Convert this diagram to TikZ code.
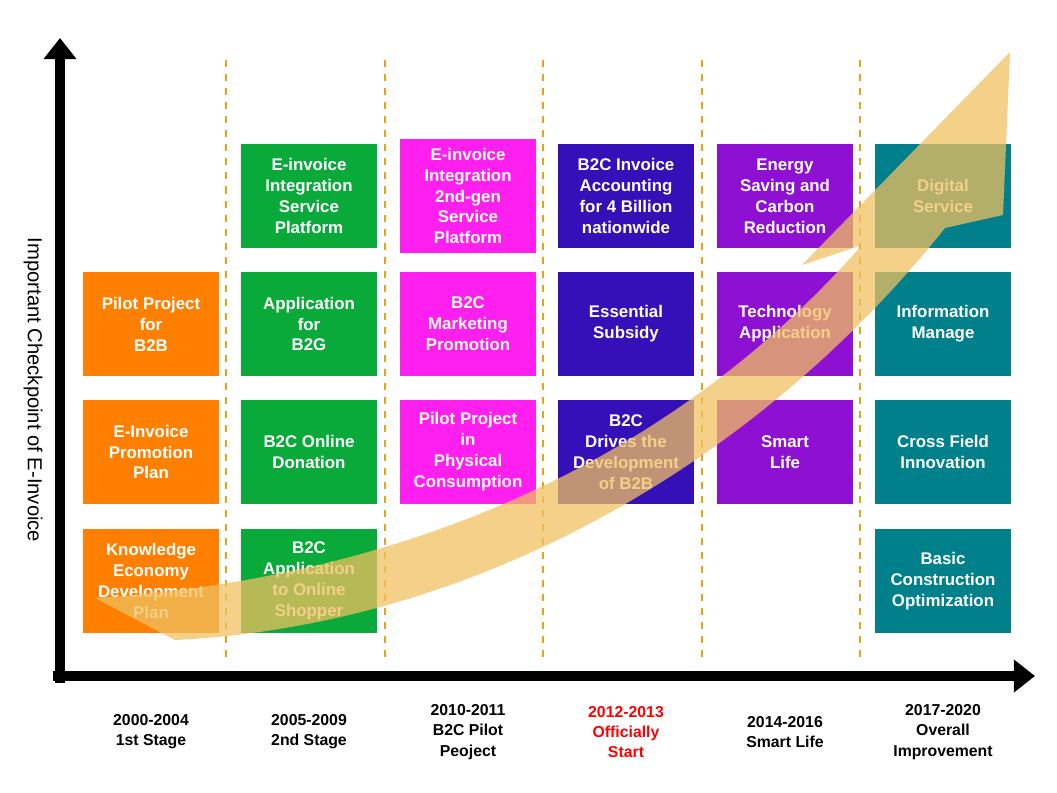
\documentclass[tikz,border=0pt]{standalone}
\usepackage{fontspec}
\setmainfont{Liberation Sans}
\usetikzlibrary{arrows.meta}
\definecolor{corange}{HTML}{FF8000}
\definecolor{cgreen}{HTML}{0AAA3A}
\definecolor{cmagenta}{HTML}{FF1FEE}
\definecolor{cblue}{HTML}{3510B8}
\definecolor{cpurple}{HTML}{8E10D2}
\definecolor{cteal}{HTML}{00808A}
\definecolor{cdash}{HTML}{E8A317}
\definecolor{cband}{HTML}{F0C060}
\tikzset{
  box/.style={minimum width=2.72cm, minimum height=2.1cm, align=center, text=white,
    font=\fontsize{9.6}{11.9}\selectfont\bfseries, inner sep=1pt},
  stage/.style={align=center, font=\fontsize{9}{11.5}\selectfont\bfseries},
}
\begin{document}
\begin{tikzpicture}[x=0.02cm, y=-0.02cm, >=latex]
\useasboundingbox (0,0) rectangle (1057,793);

% dashed separators
\foreach \x in {226,385,543,702,860}
  \draw[cdash, line width=1.6pt, dash pattern=on 4pt off 4pt] (\x,60) -- (\x,662);

% axes
\coordinate (o) at (60,683);
\coordinate (ytop) at (60,38);
\coordinate (xl) at (53,676);
\coordinate (xr) at (1035,676);
\draw[line width=6pt, -{Triangle[length=12pt,width=18pt]}] (o) -- (ytop);
\draw[line width=6pt, -{Triangle[length=12pt,width=18pt]}] (xl) -- (xr);
\node[rotate=-90, font=\fontsize{11.5}{13}\selectfont] (ylab) at (33,390) {Important Checkpoint of E-Invoice};

% column 1
\node[box, fill=corange] (a2) at (151,324) {Pilot Project\\for\\B2B};
\node[box, fill=corange] (a3) at (151,452) {E-Invoice\\Promotion\\Plan};
\node[box, fill=corange] (a4) at (151,581) {Knowledge\\Economy\\Development\\Plan};
% column 2
\node[box, fill=cgreen] (b1) at (309,196) {E-invoice\\Integration\\Service\\Platform};
\node[box, fill=cgreen] (b2) at (309,324) {Application\\for\\B2G};
\node[box, fill=cgreen] (b3) at (309,452) {B2C Online\\Donation};
\node[box, fill=cgreen] (b4) at (309,581) {B2C\\Application\\to Online\\Shopper};
% column 3
\node[box, fill=cmagenta, minimum height=2.28cm] (c1) at (468,196) {E-invoice\\Integration\\2nd-gen\\Service\\Platform};
\node[box, fill=cmagenta] (c2) at (468,324) {B2C\\Marketing\\Promotion};
\node[box, fill=cmagenta] (c3) at (468,452) {Pilot Project\\in\\Physical\\Consumption};
% column 4
\node[box, fill=cblue] (d1) at (626,196) {B2C Invoice\\Accounting\\for 4 Billion\\nationwide};
\node[box, fill=cblue] (d2) at (626,324) {Essential\\Subsidy};
\node[box, fill=cblue] (d3) at (626,452) {B2C\\Drives the\\Development\\of B2B};
% column 5
\node[box, fill=cpurple] (e1) at (785,196) {Energy\\Saving and\\Carbon\\Reduction};
\node[box, fill=cpurple] (e2) at (785,324) {Technology\\Application};
\node[box, fill=cpurple] (e3) at (785,452) {Smart\\Life};
% column 6
\node[box, fill=cteal] (f1) at (943,196) {Digital\\Service};
\node[box, fill=cteal] (f2) at (943,324) {Information\\Manage};
\node[box, fill=cteal] (f3) at (943,452) {Cross Field\\Innovation};
\node[box, fill=cteal] (f4) at (943,581) {Basic\\Construction\\Optimization};

% growth band
\fill[cband, opacity=0.75] (95,598) .. controls (450,575) and (700,430) .. (862,245)
  -- (802,265) -- (1010,52) -- (1003,215) -- (945,228)
  .. controls (760,460) and (480,625) .. (175,640) -- cycle;

% stages
\node[stage] (s1) at (151,732) {2000-2004\\1st Stage};
\node[stage] (s2) at (309,732) {2005-2009\\2nd Stage};
\node[stage] (s3) at (468,732) {2010-2011\\B2C Pilot\\Peoject};
\node[stage, text=red] (s4) at (626,732) {2012-2013\\Officially\\Start};
\node[stage] (s5) at (785,732) {2014-2016\\Smart Life};
\node[stage] (s6) at (943,732) {2017-2020\\Overall\\Improvement};
\end{tikzpicture}
\end{document}
